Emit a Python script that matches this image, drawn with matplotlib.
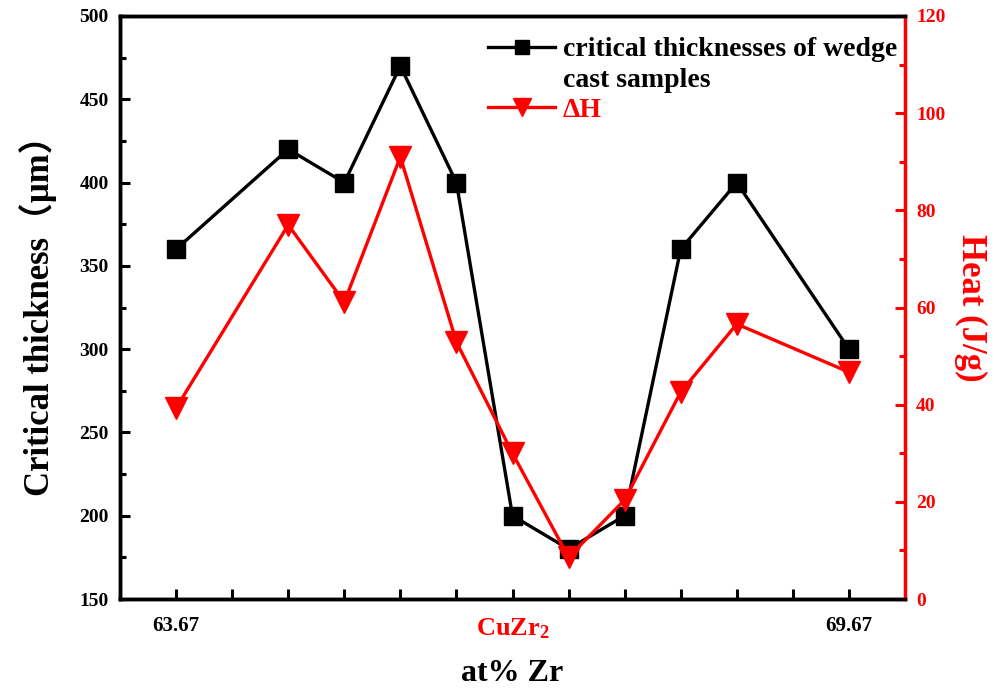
import matplotlib
matplotlib.use("Agg")
import matplotlib.pyplot as plt
from matplotlib.lines import Line2D
from matplotlib.ticker import MultipleLocator, FixedLocator

zr = [63.67, 64.67, 65.17, 65.67, 66.17, 66.67, 67.17, 67.67, 68.17, 68.67, 69.67]
thickness = [360, 420, 400, 470, 400, 200, 180, 200, 360, 400, 300]
heat = [39.3, 77.0, 61.1, 91.0, 52.9, 30.0, 8.6, 20.4, 42.6, 56.6, 46.7]
xtick_pos = [63.67, 66.67, 69.67]
xtick_labels = ["63.67", "CuZr$_2$", "69.67"]

plt.rcParams['font.family'] = ['Liberation Serif', 'Noto Sans CJK SC']
plt.rcParams['font.weight'] = 'bold'
plt.rcParams['mathtext.fontset'] = 'custom'
plt.rcParams['mathtext.rm'] = 'Liberation Serif:bold'
plt.rcParams['mathtext.it'] = 'Liberation Serif:bold'
plt.rcParams['mathtext.bf'] = 'Liberation Serif:bold'

RED = '#ff0000'
fig = plt.figure(figsize=(9.94, 6.93), dpi=100)
ax = fig.add_axes([120/994, 94/693, 785/994, 583/693])
ax2 = ax.twinx()

l1, = ax.plot(zr, thickness, color='black', lw=2.4, marker='s', markersize=12.5, zorder=3)
l2, = ax2.plot(zr, heat, color=RED, lw=2.4, marker='v', markersize=15.5, zorder=3)

ax.set_xlim(63.17, 70.17)
ax.set_ylim(150, 500)
ax2.set_ylim(0, 120)

ax.yaxis.set_major_locator(MultipleLocator(50))
ax.yaxis.set_minor_locator(MultipleLocator(25))
ax2.yaxis.set_major_locator(MultipleLocator(20))
ax2.yaxis.set_minor_locator(MultipleLocator(10))

xt = [63.67 + 0.5 * i for i in range(13)]
ax.xaxis.set_major_locator(FixedLocator(xt))
ax.set_xticklabels([""] * len(xt))
ax.tick_params(axis='x', which='major', direction='in', length=7, width=2.2)
for pos, lab in zip(xtick_pos, xtick_labels):
    is_cu = 'Cu' in lab
    ax.text(pos, -0.03, lab, transform=ax.get_xaxis_transform(), ha='center', va='top',
            fontsize=19 if is_cu else 15, fontweight='bold',
            color=RED if is_cu else 'black')

ax.tick_params(axis='y', which='major', direction='in', length=7, width=2.2, labelsize=14, pad=8)
ax.tick_params(axis='y', which='minor', direction='in', length=4, width=2.2)
ax2.tick_params(axis='y', which='major', direction='in', length=7, width=2.2, labelsize=14,
                colors=RED, pad=8)
ax2.tick_params(axis='y', which='minor', direction='in', length=4, width=2.2, colors=RED)

for sp in ['left', 'bottom', 'top']:
    ax.spines[sp].set_linewidth(2.5)
    ax2.spines[sp].set_linewidth(2.5)
ax2.spines['right'].set_linewidth(2.5)
ax2.spines['right'].set_color(RED)
ax.spines['right'].set_visible(False)

ax.set_xlabel('at% Zr', fontsize=23, fontweight='bold', labelpad=40)
ax.set_ylabel('Critical thickness（μm）', fontsize=25, fontweight='bold', labelpad=16)
ax2.set_ylabel('Heat (J/g)', fontsize=25, fontweight='bold', color=RED,
               rotation=-90, labelpad=30)

blank = Line2D([], [], linestyle='none', marker=None)
leg = ax.legend(handles=[l1, blank, l2],
                labels=['critical thicknesses of wedge', 'cast samples', 'ΔH'],
                loc='upper left', bbox_to_anchor=(0.455, 0.983),
                frameon=False, prop={'size': 20, 'weight': 'bold'}, markerscale=0.8,
                handlelength=2.4, handletextpad=0.29, labelspacing=0.17, borderaxespad=0.0)
for t, c in zip(leg.get_texts(), ['black', 'black', RED]):
    t.set_color(c)

fig.savefig('out.png', dpi=100)
